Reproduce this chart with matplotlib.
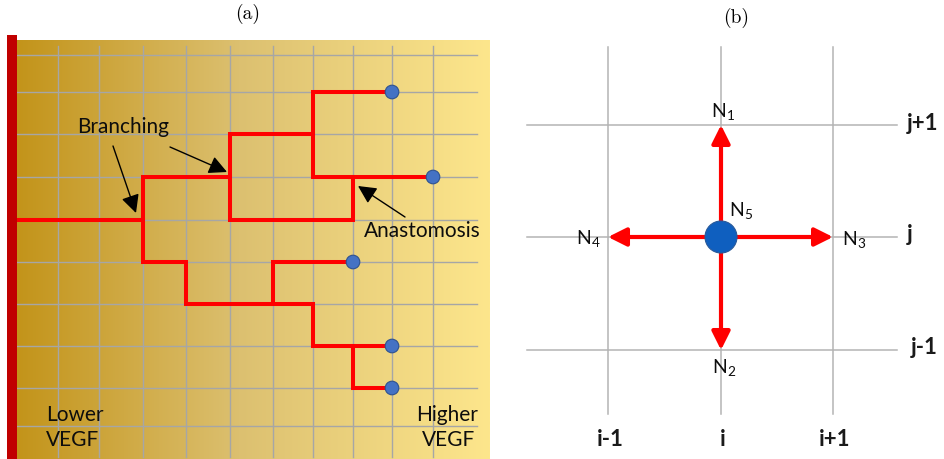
import matplotlib
matplotlib.use('Agg')
import matplotlib.pyplot as plt
import numpy as np
from matplotlib.colors import LinearSegmentedColormap
from matplotlib.patches import FancyArrowPatch, Circle, Rectangle

plt.rcParams['font.family'] = ['Lato', 'DejaVu Sans']
plt.rcParams['mathtext.default'] = 'regular'

W, H = 945, 460

# ---------------- Panel (a) data ----------------
col_x = [58, 99, 143, 186, 230, 273, 313, 353, 392, 433]   # vertical grid lines
row_y = [56, 93, 135, 178, 221, 263, 305, 347, 389, 427]   # horizontal grid lines
wall_x = 17
# vessel paths as (column index, row index); column -1 is the parent vessel wall
vessel_paths = [
    [(-1, 4), (2, 4), (2, 3), (4, 3), (4, 2), (6, 2), (6, 1), (8, 1)],
    [(6, 2), (6, 3), (9, 3)],
    [(4, 3), (4, 4), (7, 4), (7, 3)],
    [(2, 4), (2, 5), (3, 5), (3, 6), (6, 6), (6, 7), (8, 7)],
    [(5, 6), (5, 5), (7, 5)],
    [(7, 7), (7, 8), (8, 8)],
]
tip_nodes = [(8, 1), (9, 3), (7, 5), (8, 7), (8, 8)]
gradient_colors = ['#C3941A', '#DCC070', '#FDE68C']

# ---------------- Panel (b) data ----------------
b_col_x = [608, 721, 833]
b_row_y = [126, 238, 351]
b_col_labels = ['i-1', 'i', 'i+1']
b_row_labels = ['j+1', 'j', 'j-1']
# neighbours: (label, column index, row index)
neighbours = [('N$_1$', 1, 0), ('N$_2$', 1, 2), ('N$_3$', 2, 1), ('N$_4$', 0, 1)]


def px(c):
    return wall_x if c < 0 else col_x[c]


fig = plt.figure(figsize=(W / 100, H / 100), dpi=100)
ax = fig.add_axes([0, 0, 1, 1])
ax.set_xlim(0, W)
ax.set_ylim(H, 0)
ax.set_aspect('equal')
ax.axis('off')

# gradient background
cmap = LinearSegmentedColormap.from_list('vegf', list(zip([0, 0.47, 1], gradient_colors)))
ax.imshow(np.linspace(0, 1, 512).reshape(1, -1), cmap=cmap, aspect='auto',
          extent=[wall_x, 490, H, 41], zorder=0, interpolation='bilinear')

# parent vessel wall
ax.add_patch(Rectangle((7, 36), wall_x - 7, H - 36, color='#C00000', zorder=5, lw=0))

# grid
for x in col_x:
    ax.plot([x, x], [47, 458], color='#A6A6A6', lw=1.0, zorder=1)
for y in row_y:
    ax.plot([wall_x, 477], [y, y], color='#A6A6A6', lw=1.0, zorder=1)

# vessels
for path in vessel_paths:
    xs = [px(c) for c, r in path]
    ys = [row_y[r] for c, r in path]
    ax.plot(xs, ys, color='#FF0000', lw=2.9, solid_joinstyle='miter',
            solid_capstyle='projecting', zorder=3)

for c, r in tip_nodes:
    ax.add_patch(Circle((px(c), row_y[r]), 6.8, facecolor='#4472C4',
                        edgecolor='#2F528F', lw=0.8, zorder=4))

# annotations
def black_arrow(p0, p1):
    ax.add_patch(FancyArrowPatch(p0, p1, arrowstyle='-|>,head_length=11,head_width=5.5',
                                 mutation_scale=1, color='black', lw=1.0,
                                 shrinkA=0, shrinkB=0, zorder=6))

black_arrow((113, 147), (136, 214))
black_arrow((170, 148), (227, 173))
black_arrow((405, 218), (358, 187))

tfs = 15
tc = '#0d0d0d'
ax.text(123, 127, 'Branching', fontsize=tfs, ha='center', va='center', color=tc, zorder=7)
ax.text(422, 231, 'Anastomosis', fontsize=tfs, ha='center', va='center', color=tc, zorder=7)
ax.text(46, 415, 'Lower', fontsize=tfs, ha='left', va='center', color=tc, zorder=7)
ax.text(46, 440, 'VEGF', fontsize=tfs, ha='left', va='center', color=tc, zorder=7)
ax.text(478, 415, 'Higher', fontsize=tfs, ha='right', va='center', color=tc, zorder=7)
ax.text(422, 440, 'VEGF', fontsize=tfs, ha='left', va='center', color=tc, zorder=7)

ax.text(248, 14, '(a)', fontsize=14, family='cmr10', ha='center', va='center')
ax.text(736, 18, '(b)', fontsize=14, family='cmr10', ha='center', va='center')

# ---------------- Panel (b) drawing ----------------
for x in b_col_x:
    ax.plot([x, x], [48, 415], color='#B4B4B4', lw=1.1, zorder=1)
for y in b_row_y:
    ax.plot([527, 897], [y, y], color='#B4B4B4', lw=1.1, zorder=1)

cx, cy = b_col_x[1], b_row_y[1]
for lab, c, r in neighbours:
    ax.add_patch(FancyArrowPatch((cx, cy), (b_col_x[c], b_row_y[r]),
                                 arrowstyle='-|>,head_length=11,head_width=5.5',
                                 mutation_scale=1, color='#FF0000', lw=3.0,
                                 shrinkA=0, shrinkB=0, zorder=3))
ax.add_patch(Circle((cx, cy), 16, facecolor='#0F5FBF', edgecolor='#2A5A9A', lw=0.8, zorder=4))

nfs = 14
label_pos = {'N$_1$': (723, 112), 'N$_2$': (724, 368), 'N$_3$': (854, 240), 'N$_4$': (588, 239)}
for lab, c, r in neighbours:
    x, y = label_pos[lab]
    ax.text(x, y, lab, fontsize=nfs, ha='center', va='center', color=tc, zorder=7)
ax.text(741, 211, 'N$_5$', fontsize=nfs, ha='center', va='center', color=tc, zorder=7)

lfs = 16
for x, lab in zip(b_col_x, b_col_labels):
    ax.text(x + 2, 440, lab, fontsize=lfs, fontweight='bold', ha='center', va='center', color='#1a1a1a')
row_label_x = [907, 907, 911]
for x, y, lab in zip(row_label_x, b_row_y, b_row_labels):
    ax.text(x, y - 3, lab, fontsize=lfs, fontweight='bold', ha='left', va='center', color='#1a1a1a')

fig.savefig('out.png', dpi=100)
